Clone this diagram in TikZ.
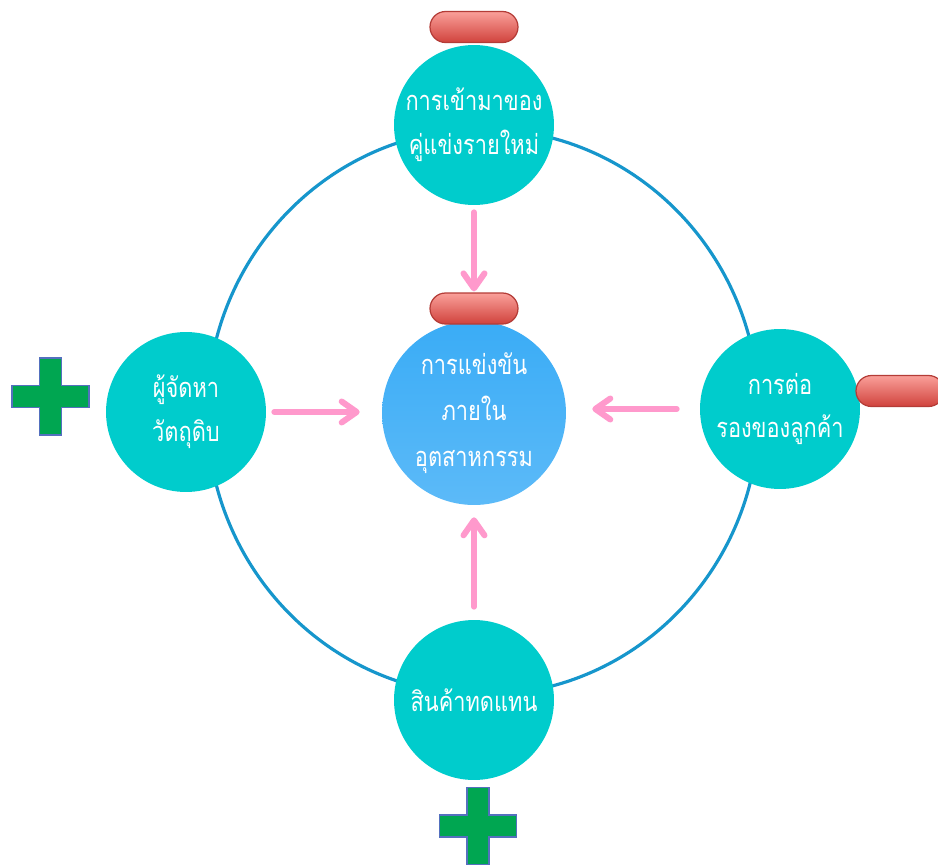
\documentclass[tikz,border=0pt]{standalone}
\usepackage{fontspec}
\newfontfamily\thaifont[Script=Thai,FakeStretch=0.8]{Loma}
\usetikzlibrary{arrows.meta}
\definecolor{tealc}{RGB}{0,204,204}
\definecolor{hubtop}{RGB}{58,172,246}
\definecolor{hubbot}{RGB}{92,186,248}
\definecolor{ringc}{RGB}{22,150,204}
\definecolor{pinkc}{RGB}{255,153,204}
\definecolor{pilltop}{RGB}{250,160,154}
\definecolor{pillbot}{RGB}{208,66,60}
\definecolor{pilledge}{RGB}{180,60,55}
\definecolor{plusfill}{RGB}{0,166,81}
\definecolor{plusedge}{RGB}{84,112,190}
\tikzset{
  outer/.style={circle, fill=tealc, minimum size=3.2cm, inner sep=0pt, text=white,
    font=\thaifont\fontsize{15.5}{25}\selectfont, align=center},
  hub/.style={circle, top color=hubtop, bottom color=hubbot, minimum size=3.68cm, inner sep=0pt,
    text=white, font=\thaifont\fontsize{15.5}{26}\selectfont, align=center},
  pill/.style={rectangle, rounded corners=0.31cm, minimum width=1.76cm, minimum height=0.62cm,
    top color=pilltop, bottom color=pillbot, draw=pilledge, line width=0.7pt, inner sep=0pt},
  ring/.style={draw=ringc, line width=1.8pt},
  arr/.style={draw=pinkc, line width=0.12cm, line cap=round,
    -{Straight Barb[length=0.3cm,width=0.42cm,round]}},
  plusst/.style={fill=plusfill, draw=plusedge, line width=1pt},
  plus/.pic={\draw[plusst] (-11,-38.5) -- (11,-38.5) -- (11,-11) -- (38.5,-11) -- (38.5,11)
    -- (11,11) -- (11,38.5) -- (-11,38.5) -- (-11,11) -- (-38.5,11) -- (-38.5,-11) -- (-11,-11) -- cycle;}
}
\begin{document}
\begin{tikzpicture}[x=0.02cm,y=-0.02cm]
\useasboundingbox (0,0) rectangle (938,866);
\fill[white] (0,0) rectangle (938,866);
% ring
\draw[ring] (483,412) ellipse [x radius=5.52cm, y radius=5.66cm];
% nodes
\node[outer] (top) at (474,125) {การเข้ามาของ\\คู่แข่งรายใหม่};
\node[hub] (hub) at (474,413) {การแข่งขัน\\ภายใน\\อุตสาหกรรม};
\node[outer] (left) at (186,412) {ผู้จัดหา\\วัตถุดิบ};
\node[outer] (right) at (780,409) {การต่อ\\รองของลูกค้า};
\node[outer] (bottom) at (474,700) {สินค้าทดแทน};
% pills
\node[pill] (tpill) at (474,27) {};
\node[pill] (cpill) at (474,308.5) {};
\node[pill] (rpill) at (900,391) {};
% plus signs
\pic at (50.5,396.5) {plus};
\pic at (478,826) {plus};
% arrows
\draw[arr, shorten <=0.14cm, shorten >=0.02cm] (top.south) -- (cpill.north);
\draw[arr, shorten <=0.26cm, shorten >=0.24cm] (bottom.north) -- (hub.south);
\draw[arr, shorten <=0.16cm, shorten >=0.44cm] (left.east) -- (left.east -| hub.west);
\draw[arr, shorten <=0.46cm, shorten >=0.52cm] (right.west) -- (right.west -| hub.east);
\end{tikzpicture}
\end{document}
